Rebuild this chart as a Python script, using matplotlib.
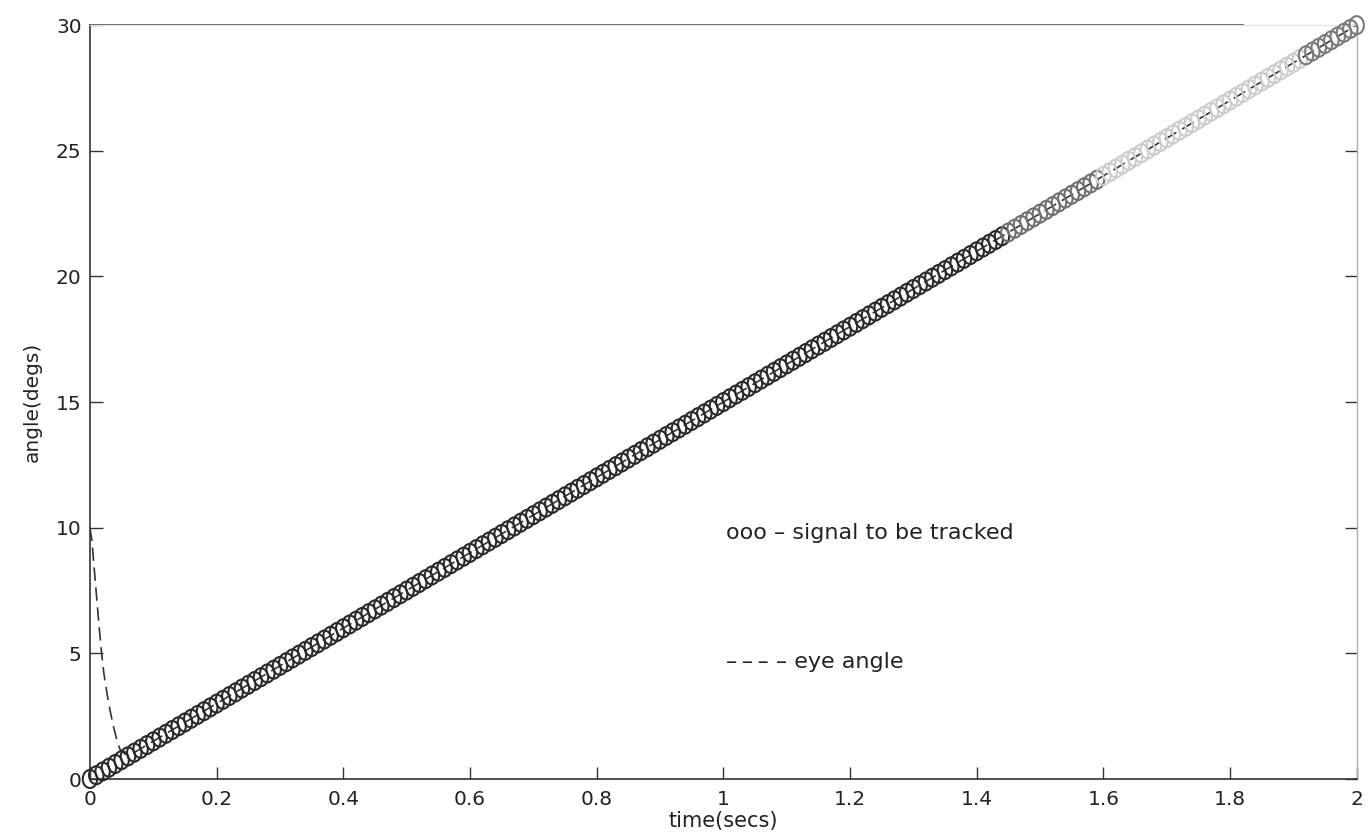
import numpy as np
import matplotlib
matplotlib.use("Agg")
import matplotlib.pyplot as plt
from matplotlib.path import Path
from matplotlib.transforms import Affine2D

# signal to be tracked: ramp sampled every 0.01 s, 0 -> 30 degs over 2 s
sample_step = 0.01
t_end = 2.0
ramp_rate = 15.0  # degs per sec, read from the slope
signal_t = np.arange(0, t_end + sample_step / 2, sample_step)
signal_deg = ramp_rate * signal_t

# eye angle (dashed)
eye_t = [0.0, 0.003, 0.006, 0.01, 0.014, 0.018, 0.022, 0.027, 0.032, 0.037, 0.042, 0.047, 0.055, 0.065, 2.0]
eye_deg = [10.0, 9.5, 8.6, 7.4, 6.2, 5.1, 4.2, 3.4, 2.7, 2.1, 1.6, 1.2, 1.0, 0.98, 30.0]

xticks = [0, 0.2, 0.4, 0.6, 0.8, 1, 1.2, 1.4, 1.6, 1.8, 2]
xticklabels = ["0", "0.2", "0.4", "0.6", "0.8", "1", "1.2", "1.4", "1.6", "1.8", "2"]
yticks = [0, 5, 10, 15, 20, 25, 30]

plt.rcParams['font.family'] = ['DejaVu Sans']

fig = plt.figure(figsize=(13.69, 8.39), dpi=100)
ax = fig.add_axes([0.0657, 0.0715, 0.9253, 0.8985])

ink = '#333333'

# slightly tall open circles
oval = Path.unit_circle().transformed(Affine2D().scale(0.8, 1.0))

# scan fades towards the top right
cols = []
for t in signal_t:
    if t < 1.45:
        cols.append('#2a2a2a')
    elif t < 1.6:
        cols.append('#707070')
    elif t < 1.92:
        cols.append('#cccccc')
    else:
        cols.append('#7a7a7a')

ax.plot(eye_t, eye_deg, color=ink, lw=1.2, linestyle=(0, (8, 4)), zorder=2)
ax.scatter(signal_t, signal_deg, marker=oval, s=13 ** 2, facecolors='none',
           edgecolors=cols, linewidths=1.5, zorder=3, clip_on=False)

ax.set_xlim(0, 2)
ax.set_ylim(0, 30)
ax.set_xticks(xticks)
ax.set_xticklabels(xticklabels)
ax.set_yticks(yticks)
ax.tick_params(direction='in', length=9, width=1, color=ink, labelsize=14.5,
               labelcolor='#222222', right=True, top=False, pad=6)
ax.tick_params(axis='x', pad=8)

for side in ['left', 'bottom']:
    ax.spines[side].set_color(ink)
    ax.spines[side].set_linewidth(1.2)
ax.spines['right'].set_color('#b0b0b0')
ax.spines['right'].set_linewidth(1.0)
ax.spines['top'].set_color('#e6e6e6')
ax.spines['top'].set_linewidth(1.0)
ax.axhline(30, xmin=0, xmax=0.91, color=ink, lw=1.2, clip_on=False, zorder=1)

ax.set_xlabel("time(secs)", fontsize=15, color='#222222', labelpad=1)
ax.set_ylabel("angle(degs)", fontsize=14.5, color='#222222', labelpad=10)

ax.text(1.005, 9.8, "ooo \u2013 signal to be tracked", fontsize=16, color='#222222',
        va='center', ha='left')
ax.text(1.005, 4.66, "\u2013\u2009\u2013\u2009\u2013 \u2013 eye angle", fontsize=16,
        color='#222222', va='center', ha='left')

fig.savefig("out.png", dpi=100, facecolor='white')
